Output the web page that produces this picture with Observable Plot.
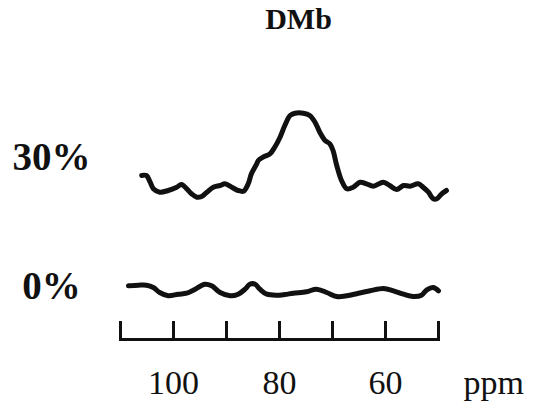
<!DOCTYPE html>
<html><head><meta charset="utf-8">
<script src="https://cdn.jsdelivr.net/npm/d3@7"></script>
<script src="https://cdn.jsdelivr.net/npm/@observablehq/plot@0.6"></script>
<style>
html,body{margin:0;padding:0;background:#fff;}
#chart svg{display:block;}
</style></head><body><div id="chart"></div>
<script>
const title = "DMb";
const traceNames = ["30%", "0%"];
const traceOffsets = [104, 0];
const ppm30 = [106.0,105.1,104.4,103.8,102.6,101.0,99.4,98.5,97.5,96.6,95.6,94.7,93.7,92.5,91.2,90.3,89.0,87.8,86.8,85.9,85.3,84.3,84.0,83.1,81.8,80.9,79.9,79.0,78.0,77.1,75.5,74.3,73.3,72.4,71.4,70.5,69.9,69.2,68.3,67.3,66.1,64.8,63.6,62.3,60.4,59.2,57.9,56.6,55.4,53.8,52.9,51.9,51.0,50.3,49.4,48.5];
const int30 = [13,13,6.3,-0.3,-3.7,-2,1.3,4,-0.3,-5.3,-8.7,-8,-3.7,1.3,3,4.7,1.3,-2,-2.7,4.7,14.7,24.7,28,31.3,34.7,41.3,51.3,63,73,75.3,75.3,73,66.3,56.3,48,44.7,38,23,8,-0.3,1.3,6.3,4.7,2.3,6.3,3,-1,3,2.3,4.7,1.3,-3.7,-10.3,-10.3,-5.3,-2];
const ppm0 = [108.5,106.6,105.1,103.8,102.6,101.0,99.1,97.5,95.9,94.1,92.8,91.2,89.3,87.8,86.5,85.6,84.6,83.7,82.4,80.5,79.0,77.4,74.9,73.0,71.1,69.2,67.3,65.1,62.9,60.4,58.5,56.6,54.8,53.2,52.2,51.0,50.0];
const int0 = [6.7,7.3,7.3,5,0,-3.3,-1.7,-0.7,3.3,8.3,6.7,0,-3.3,-1.7,3.3,8.3,8.3,3.3,-1.7,-2.7,-2,-0.7,0.7,3.3,0,-4,-3.3,-0.7,1.7,4,1.7,-1.7,-4,-2.7,2.7,5,1.7];
const xTicks = [110, 100, 90, 80, 70, 60, 50];
const xLabels = [100, 80, 60];
const xUnit = "ppm";

const series = [[ppm30, int30], [ppm0, int0]];
const rows = series.flatMap(([p, v], k) =>
  p.map((ppm, i) => ({trace: traceNames[k], ppm, value: v[i] + traceOffsets[k]})));
const labels = traceNames.map((name, k) => ({name, y: traceOffsets[k]}));

const ink = "#111";
const chart = Plot.plot({
  width: 540, height: 403,
  marginLeft: 120, marginRight: 102, marginTop: 40, marginBottom: 64,
  style: {fontFamily: "'Liberation Serif', 'Times New Roman', serif", color: ink, background: "white", overflow: "visible"},
  x: {domain: [110, 50]},
  y: {domain: [-47, 252], axis: null},
  marks: [
    Plot.frame({anchor: "bottom", stroke: ink, strokeWidth: 3}),
    Plot.axisX(xTicks, {tickSize: -18, strokeWidth: 3, tickFormat: () => "", label: null}),
    Plot.axisX(xLabels, {tickSize: 0, tickPadding: 30, fontSize: 34, label: null, fill: ink}),
    Plot.line(rows, {x: "ppm", y: "value", z: "trace", stroke: ink, strokeWidth: 5, curve: "catmull-rom", strokeLinejoin: "round", strokeLinecap: "round"}),
    Plot.text([title], {frameAnchor: "top", textAnchor: "middle", lineAnchor: "middle", dx: 19, dy: -21, fontSize: 30, fontWeight: "bold", fill: ink}),
    Plot.text(labels.slice(0, 1), {frameAnchor: "left", y: "y", text: "name", textAnchor: "middle", lineAnchor: "middle", dx: -69, dy: -31, fontSize: 39, fontWeight: "bold", fill: ink}),
    Plot.text(labels.slice(1, 2), {frameAnchor: "left", y: "y", text: "name", textAnchor: "middle", lineAnchor: "middle", dx: -69, dy: -6, fontSize: 39, fontWeight: "bold", fill: ink}),
    Plot.text([xUnit], {frameAnchor: "bottom-right", textAnchor: "start", lineAnchor: "top", dx: 25, dy: 30, fontSize: 34, fill: ink})
  ]
});
document.getElementById("chart").append(chart);
</script></body></html>
